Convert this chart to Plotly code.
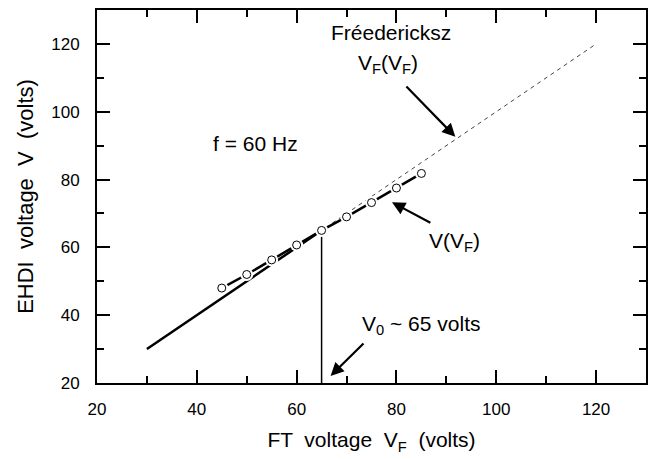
import plotly.graph_objects as go

# Data
vf_points = [45, 50, 55, 60, 65, 70, 75, 80, 85]
v_points = [48.0, 52.0, 56.3, 60.7, 65.0, 69.0, 73.2, 77.5, 81.8]
solid_x = [30, 65]
solid_y = [30, 65]
dash_x = [30, 120]
dash_y = [30, 120]
v0_x = [65, 65]
v0_y = [20, 65]

FONT = "Liberation Sans, Arial, sans-serif"

fig = go.Figure()
fig.add_trace(go.Scatter(x=dash_x, y=dash_y, mode="lines",
                         line=dict(color="#444444", width=1, dash="4px,4px"),
                         showlegend=False, hoverinfo="skip"))
fig.add_trace(go.Scatter(x=solid_x, y=solid_y, mode="lines",
                         line=dict(color="black", width=2.5),
                         showlegend=False, hoverinfo="skip"))
fig.add_trace(go.Scatter(x=v0_x, y=v0_y, mode="lines",
                         line=dict(color="black", width=1.5),
                         showlegend=False, hoverinfo="skip"))
fig.add_trace(go.Scatter(x=vf_points, y=v_points, mode="lines",
                         line=dict(color="black", width=2.5),
                         showlegend=False))
# white halos to create gaps around markers
fig.add_trace(go.Scatter(x=vf_points, y=v_points, mode="markers",
                         marker=dict(size=13, color="white", line=dict(width=0)),
                         showlegend=False, hoverinfo="skip"))
fig.add_trace(go.Scatter(x=vf_points, y=v_points, mode="markers",
                         marker=dict(size=8, color="white", symbol="circle",
                                     line=dict(color="black", width=1)),
                         showlegend=False))

ann_font = dict(family=FONT, size=21, color="black")
annotations = [
    dict(x=78.9, y=123.3, text="Fréedericksz", showarrow=False),
    dict(x=78.3, y=114.0, text="V<sub>F</sub>(V<sub>F</sub>)", showarrow=False),
    dict(x=51.7, y=90.7, text="f = 60 Hz", showarrow=False),
    dict(x=91.6, y=61.6, text="V(V<sub>F</sub>)", showarrow=False),
    dict(x=85.0, y=37.1, text="V<sub>0</sub> ~ 65 volts", showarrow=False),
    dict(x=91.8, y=92.6, ax=81.7, ay=107.9, text="", showarrow=True),
    dict(x=79.1, y=73.3, ax=87.1, ay=67.0, text="", showarrow=True),
    dict(x=66.8, y=22.1, ax=73.7, ay=32.1, text="", showarrow=True),
]
for a in annotations:
    a.update(xref="x", yref="y", font=ann_font)
    if a["showarrow"]:
        a.update(axref="x", ayref="y", arrowhead=2, arrowsize=1.2,
                 arrowwidth=2.2, arrowcolor="black", standoff=0)
fig.update_layout(annotations=annotations)

axis_common = dict(
    range=[20, 130], dtick=20, tick0=20,
    ticks="inside", ticklen=13, tickwidth=2, tickcolor="black",
    minor=dict(dtick=10, ticks="inside", ticklen=7, tickwidth=2, tickcolor="black"),
    showline=True, linewidth=2, linecolor="black", mirror="ticks",
    showgrid=False, zeroline=False,
    tickfont=dict(family=FONT, size=17, color="black"),
)
fig.update_xaxes(**axis_common,
                 title=dict(text="FT  voltage  V<sub>F</sub>  (volts)",
                            font=dict(family=FONT, size=21, color="black"), standoff=14),
                 ticklabelstandoff=10)
fig.update_yaxes(**axis_common,
                 title=dict(text="EHDI  voltage  V  (volts)",
                            font=dict(family=FONT, size=22, color="black"), standoff=12),
                 ticklabelstandoff=12)

fig.update_layout(width=656, height=459,
                  margin=dict(l=97, r=8, t=9, b=76),
                  plot_bgcolor="white", paper_bgcolor="white",
                  showlegend=False)

fig.write_html("out.html")
